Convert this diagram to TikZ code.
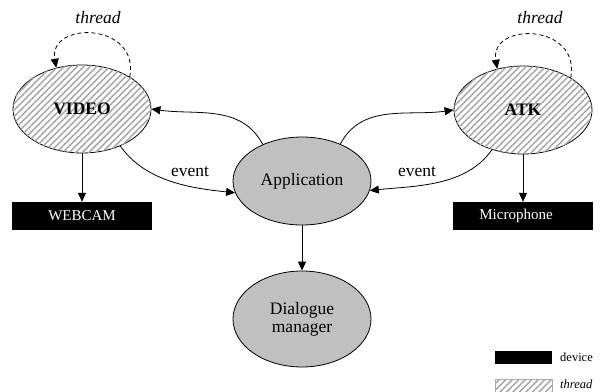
\documentclass[tikz,border=0pt]{standalone}
\usepackage{fontspec}
\setmainfont{Liberation Serif}
\usetikzlibrary{shapes.geometric,arrows.meta,patterns.meta}
\definecolor{appgray}{RGB}{192,192,192}
\definecolor{hatchgray}{RGB}{170,170,170}
\tikzset{
  proc/.style={ellipse, draw, line width=0.8pt, minimum width=138pt, minimum height=88pt, inner sep=0pt, fill=appgray, font=\fontsize{17.5}{20}\selectfont, align=center},
  threadproc/.style={proc, fill=white, postaction={pattern={Lines[angle=45,distance=4.6pt,line width=1.6pt]}, pattern color=hatchgray}, font=\fontsize{17.5}{20}\selectfont\bfseries},
  device/.style={rectangle, fill=black, text=white, minimum width=140pt, minimum height=28pt, inner sep=0pt, font=\fontsize{15}{18}\selectfont},
  link/.style={line width=0.8pt, -{Triangle[length=9pt,width=8pt]}},
  loop/.style={line width=0.8pt, dashed, dash pattern=on 4pt off 3pt, -{Triangle[length=9pt,width=8pt]}},
  lbl/.style={font=\fontsize{17.5}{20}\selectfont, inner sep=0pt},
  legendtxt/.style={font=\fontsize{12.5}{15}\selectfont, anchor=west, inner sep=0pt},
}
\begin{document}
\begin{tikzpicture}[x=1pt,y=-1pt]
  \useasboundingbox (0,0) rectangle (602,391);

  % processes
  \node[threadproc] (video) at (82,109) {VIDEO};
  \node[threadproc] (atk) at (523,110) {ATK};
  \node[proc] (app) at (302,181) {Application};
  \node[proc, minimum height=96pt] (dm) at (302,319) {Dialogue\\[-2pt]manager};

  % devices
  \node[device] (webcam) at (82,216) {WEBCAM};
  \node[device] (mic) at (523,216) {\hspace*{-14pt}Microphone};

  % device links
  \draw[link] (video.south) -- (webcam.north);
  \draw[link] (atk.south) -- (mic.north);
  \draw[link] (app.south) -- (dm.north);

  % calls and events
  \draw[link] (app.137) to[out=118,in=-8] (video.east);
  \draw[link] (video.-44) to[out=-55,in=174,looseness=0.9] (app.190);
  \draw[link] (app.44) to[out=62,in=188] (atk.west);
  \draw[link] (atk.-128) to[out=-125,in=6,looseness=0.9] (app.-8);
  \node[lbl] (evl) at (190,172) {event};
  \node[lbl] (evr) at (417,172) {event};

  % thread loops
  \draw[loop] (video.34) .. controls +(10,-55) and +(-8,-47) .. (video.122);
  \draw[loop] (atk.34) .. controls +(10,-55) and +(-8,-47) .. (atk.122);
  \node[lbl, font=\fontsize{17.5}{20}\selectfont\itshape] (vthread) at (98,18) {thread};
  \node[lbl, font=\fontsize{17.5}{20}\selectfont\itshape] (athread) at (540,18) {thread};

  % legend
  \fill (495,351) rectangle (552,364);
  \node[legendtxt] (ldev) at (560,357) {device};
  \path[fill=white, postaction={pattern={Lines[angle=45,distance=4.6pt,line width=1.6pt]}, pattern color=hatchgray}] (495,379) rectangle (552,393);
  \draw[hatchgray, line width=0.8pt] (495,379) rectangle (552,393);
  \node[legendtxt, font=\fontsize{12.5}{15}\selectfont\itshape] (lthr) at (560,384) {thread};
\end{tikzpicture}
\end{document}
